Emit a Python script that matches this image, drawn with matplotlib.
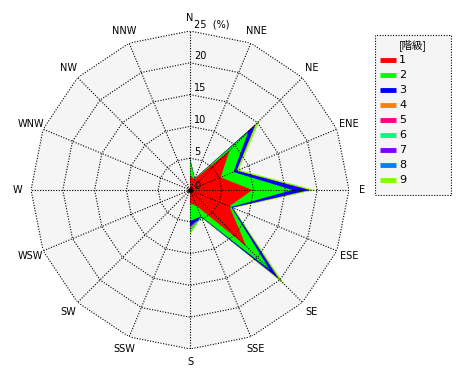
import numpy as np
import matplotlib
matplotlib.use('Agg')
import matplotlib.pyplot as plt
from matplotlib.lines import Line2D
from matplotlib.patches import Rectangle

directions = ['N', 'NNE', 'NE', 'ENE', 'E', 'ESE', 'SE', 'SSE',
              'S', 'SSW', 'SW', 'WSW', 'W', 'WNW', 'NW', 'NNW']
classes = ['1', '2', '3', '4', '5', '6', '7', '8', '9']
class_colors = ['#ff0000', '#00ff00', '#0000ff', '#ff8000', '#ff0080',
                '#00ff80', '#8000ff', '#0080ff', '#80ff00']

# frequency (%) of each class per direction (N, NNE, ..., NNW)
c1 = [2.4, 1.8, 8.8, 5.2, 9.8, 6.7, 12.5, 2.7, 2.1, 0, 0, 0, 0, 0, 0, 0]
c2 = [2.4, 0.1, 4.2, 2.2, 6.3, 0.3, 5.2, 1.8, 2.8, 0, 0, 0, 0, 0, 0, 0]
c3 = [0.1, 0.05, 1.5, 0.5, 2.6, 0.2, 1.9, 0.1, 0.9, 0, 0, 0, 0, 0, 0, 0]
c4 = [0, 0, 0.1, 0, 0.05, 0, 0.1, 0, 0.2, 0, 0, 0, 0, 0, 0, 0]
c5 = [0, 0, 0, 0, 0, 0, 0.05, 0, 0.05, 0, 0, 0, 0, 0, 0, 0]
c6 = [0, 0, 0, 0, 0, 0, 0, 0, 0.3, 0, 0, 0, 0, 0, 0, 0]
c7 = [0, 0, 0, 0, 0, 0, 0, 0, 0, 0, 0, 0, 0, 0, 0, 0]
c8 = [0, 0, 0, 0, 0, 0, 0, 0, 0.1, 0, 0, 0, 0, 0, 0, 0]
c9 = [0.4, 0.05, 0.9, 0.4, 0.85, 0.2, 1.3, 0.1, 0.6, 0, 0, 0, 0, 0, 0, 0]
class_values = [c1, c2, c3, c4, c5, c6, c7, c8, c9]

ring_ticks = [5, 10, 15, 20, 25]
r_max = 25

W, H = 470, 380
fig = plt.figure(figsize=(W / 100, H / 100), dpi=100)
fig.patch.set_facecolor('white')

cx, cy, R = 190, 190, 159
ax = fig.add_axes([(cx - R) / W, (H - cy - R) / H, 2 * R / W, 2 * R / H],
                  projection='polar')
ax.set_theta_zero_location('N')
ax.set_theta_direction(-1)
ax.set_ylim(0, r_max)
ax.grid(False)
ax.set_xticks([])
ax.set_yticks([])
ax.spines['polar'].set_visible(False)
ax.patch.set_visible(False)

theta = np.deg2rad(np.arange(len(directions)) * 360 / len(directions))
th_closed = np.append(theta, theta[0])

# background polygon
ax.fill(th_closed, [r_max] * len(th_closed), color='#f5f5f5', lw=0, zorder=0)

# stacked (cumulative) polygons, outermost first
cum = np.cumsum(np.array(class_values), axis=0)
for k in range(len(classes) - 1, -1, -1):
    rr = np.append(cum[k], cum[k][0])
    ax.fill(th_closed, rr, color=class_colors[k], lw=0, zorder=2)

# grid: polygon rings and spokes
gs = dict(color='black', lw=0.8, ls=(0, (1, 1.4)), zorder=3)
for r in ring_ticks:
    ax.plot(th_closed, [r] * len(th_closed), **gs)
for t in theta:
    ax.plot([t, t], [0, r_max], **gs)

# center dot
ax.plot([0], [0], 'o', ms=2.5, color='black', zorder=4)

# ring labels
for r in ring_ticks:
    lab = f'{r}  (%)' if r == r_max else str(r)
    ax.annotate(lab, xy=(0, r), xytext=(3, 1), textcoords='offset points',
                ha='left', va='bottom', fontsize=7, zorder=5)
ax.annotate('0', xy=(0, 0), xytext=(3, -1), textcoords='offset points',
            ha='left', va='bottom', fontsize=7, zorder=5)

# direction labels
for t, d in zip(theta, directions):
    ax.text(t, 27.1, d, ha='center', va='center', fontsize=7, clip_on=False)

# legend
lx0, ly0, lx1, ly1 = 375, 35, 451, 195
fig.add_artist(Rectangle((lx0 / W, 1 - ly1 / H), (lx1 - lx0) / W, (ly1 - ly0) / H,
                         transform=fig.transFigure, facecolor='#f5f5f5',
                         edgecolor='black', lw=0.8, ls=(0, (1, 1.4))))
fig.text((lx0 + lx1) / 2 / W, 1 - 45 / H, '[階級]', ha='center', va='center',
         fontsize=7.5, family=['Noto Sans CJK JP', 'DejaVu Sans'])
for i, (lab, col) in enumerate(zip(classes, class_colors)):
    y = 1 - (60 + 15 * i) / H
    fig.add_artist(Line2D([380 / W, 396 / W], [y, y], transform=fig.transFigure,
                          color=col, lw=3.5, solid_capstyle='butt'))
    fig.text(399 / W, y, lab, ha='left', va='center', fontsize=8)

fig.savefig('out.png', dpi=100)
